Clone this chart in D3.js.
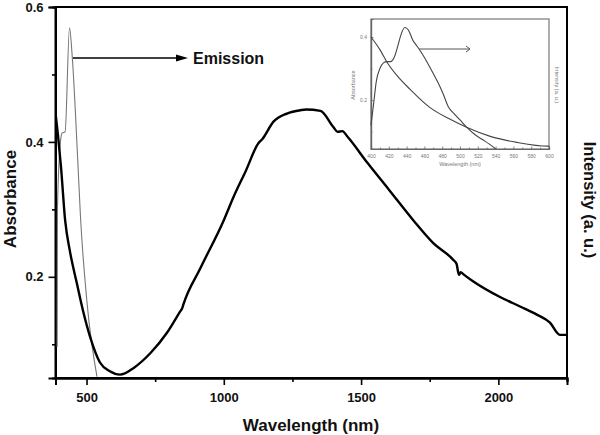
<!DOCTYPE html>
<html><head><meta charset="utf-8">
<script src="https://cdn.jsdelivr.net/npm/d3@7"></script>
<style>body{margin:0;background:#fff}svg{display:block}</style>
</head><body>
<svg id="c" width="600" height="435"></svg>
<script>
// Main chart data: absorbance (wavelength nm, absorbance)
const absWl  = [387,396,407,422,440,465,487,513,549,585,622,672,733,793,840,849,852,915,1000,1035,1080,1126,1140,1181,1230,1279,1300,1352,1399,1414,1432,1450,1523,1600,1690,1763,1836,1848,1853,1857,1863,1872,1909,2006,2079,2140,2188,2224,2250];
const absVal = [0.443,0.41,0.363,0.284,0.237,0.19,0.15,0.111,0.073,0.06,0.055,0.065,0.087,0.117,0.148,0.154,0.158,0.213,0.284,0.318,0.357,0.398,0.404,0.43,0.442,0.447,0.448,0.446,0.422,0.415,0.416,0.408,0.369,0.33,0.284,0.25,0.225,0.219,0.208,0.203,0.207,0.204,0.193,0.17,0.156,0.144,0.132,0.114,0.114];
// Main chart: emission (wavelength nm, intensity a.u.)
const emWl  = [393,394,405,411,422,438,448,468,478,502,538];
const emVal = [0.096,0.30,0.40,0.413,0.415,0.569,0.526,0.373,0.289,0.161,0.052];
const xTicks = [500,1000,1500,2000];
const xMinor = [750,1250,1750,2250];
const yTicks = [0.2,0.4,0.6];
const yMinor = [0.1,0.3,0.5];

// Inset data
const inAbsWl  = [400,410,418,430,444,466,489,508,534,564,599,600];
const inAbsVal = [0.40,0.36,0.32,0.275,0.234,0.177,0.139,0.113,0.085,0.066,0.054,0.054];
const inEmWl  = [400,403,406,410,414,418,422,426,430,434,438,442,447,452,459,466,475,481,487,494,500,508,517,528,540];
const inEmVal = [0.12,0.19,0.26,0.30,0.318,0.322,0.322,0.335,0.37,0.41,0.43,0.422,0.39,0.37,0.34,0.305,0.257,0.22,0.178,0.155,0.137,0.113,0.09,0.07,0.046];
const inXTicks = [400,420,440,460,480,500,520,540,560,580,600];
const inXMinor = [410,430,450,470,490,510,530,550,570,590];
const inYTicks = [0.2,0.4];
const inYMinor = [0.1,0.3];

const svg = d3.select("#c");
const FONT = "'Liberation Sans', Arial, sans-serif";

// ---- Main plot ----
const L=55.5, R=567, T=7, B=378;
const x = d3.scaleLinear().domain([387,2250]).range([L,R]);
const y = d3.scaleLinear().domain([0.05,0.6]).range([B,T]);
const yR = d3.scaleLinear().domain([0.05,0.6]).range([B,T]);

svg.append("rect").attr("x",L).attr("y",T).attr("width",R-L).attr("height",B-T)
  .attr("fill","none").attr("stroke","#000").attr("stroke-width",2);

function styleAxis(g){
  g.select(".domain").attr("stroke","#000").attr("stroke-width",2);
  g.selectAll(".tick line").attr("stroke","#000").attr("stroke-width",1.6);
  g.selectAll("text").attr("font-family",FONT).attr("font-weight","bold").attr("font-size",13).attr("fill","#111");
}
svg.append("g").attr("transform",`translate(${L},0)`)
  .call(d3.axisLeft(y).tickValues(yTicks).tickSize(7).tickPadding(5).tickFormat(d3.format(".1f"))).call(styleAxis);
svg.append("g").attr("transform",`translate(${L},0)`)
  .call(d3.axisLeft(y).tickValues(yMinor).tickSize(3.5).tickFormat("")).call(styleAxis);
svg.append("g").attr("transform",`translate(0,${B})`)
  .call(d3.axisBottom(x).tickValues(xTicks).tickSize(7).tickPadding(8).tickFormat(d3.format("d"))).call(styleAxis);
svg.append("g").attr("transform",`translate(0,${B})`)
  .call(d3.axisBottom(x).tickValues(xMinor).tickSize(4).tickFormat("")).call(styleAxis);

svg.append("clipPath").attr("id","mclip").append("rect")
  .attr("x",L).attr("y",T).attr("width",R-L).attr("height",B-T);

const line = d3.line().curve(d3.curveMonotoneX);
svg.append("path").attr("clip-path","url(#mclip)")
  .attr("d", line(emWl.map((w,i)=>[x(w),yR(emVal[i])])))
  .attr("fill","none").attr("stroke","#777").attr("stroke-width",1.1);
svg.append("path").attr("clip-path","url(#mclip)")
  .attr("d", line(absWl.map((w,i)=>[x(w),y(absVal[i])])))
  .attr("fill","none").attr("stroke","#000").attr("stroke-width",2.4).attr("stroke-linejoin","round");

// Arrow + Emission label
const ay = 58;
svg.append("line").attr("x1",73).attr("x2",180).attr("y1",ay).attr("y2",ay).attr("stroke","#000").attr("stroke-width",1.6);
svg.append("path").attr("d",`M176,${ay-3.5}L188,${ay}L176,${ay+3.5}Z`).attr("fill","#000");
svg.append("text").attr("x",193).attr("y",ay+5.5).text("Emission")
  .attr("font-family",FONT).attr("font-weight","bold").attr("font-size",16).attr("fill","#111");

// Axis titles
svg.append("text").attr("x",311).attr("y",431).attr("text-anchor","middle").text("Wavelength (nm)")
  .attr("font-family",FONT).attr("font-weight","bold").attr("font-size",17).attr("fill","#111");
svg.append("text").attr("transform","translate(16,199) rotate(-90)").attr("text-anchor","middle").text("Absorbance")
  .attr("font-family",FONT).attr("font-weight","bold").attr("font-size",17).attr("fill","#111");
svg.append("text").attr("transform","translate(584,200) rotate(90)").attr("text-anchor","middle").text("Intensity (a. u.)")
  .attr("font-family",FONT).attr("font-weight","bold").attr("font-size",16.5).attr("fill","#111");

// ---- Inset ----
const iL=371, iR=549, iT=19, iB=149;
const ix = d3.scaleLinear().domain([400,600]).range([iL,iR]);
const iy = d3.scaleLinear().domain([0.045,0.457]).range([iB,iT]);
const ins = svg.append("g");
ins.append("rect").attr("x",iL).attr("y",iT).attr("width",iR-iL).attr("height",iB-iT)
  .attr("fill","#fff").attr("stroke","#777").attr("stroke-width",1.2);
function styleIn(g){
  g.select(".domain").attr("stroke","#666").attr("stroke-width",1.2);
  g.selectAll(".tick line").attr("stroke","#666").attr("stroke-width",0.8);
  g.selectAll("text").attr("font-family",FONT).attr("font-size",5).attr("fill","#777");
}
ins.append("g").attr("transform",`translate(0,${iB})`)
  .call(d3.axisBottom(ix).tickValues(inXTicks).tickSize(-2.5).tickPadding(5).tickFormat(d3.format("d"))).call(styleIn);
ins.append("g").attr("transform",`translate(0,${iB})`)
  .call(d3.axisBottom(ix).tickValues(inXMinor).tickSize(-1.5).tickFormat("")).call(styleIn);
ins.append("g").attr("transform",`translate(${iL},0)`)
  .call(d3.axisLeft(iy).tickValues(inYTicks).tickSize(-2.5).tickPadding(4).tickFormat(d3.format(".1f"))).call(styleIn);
ins.append("g").attr("transform",`translate(${iL},0)`)
  .call(d3.axisLeft(iy).tickValues(inYMinor).tickSize(-1.5).tickFormat("")).call(styleIn);
ins.append("path").attr("d", line(inAbsWl.map((w,i)=>[ix(w),iy(inAbsVal[i])])))
  .attr("fill","none").attr("stroke","#444").attr("stroke-width",1.1);
ins.append("path").attr("d", line(inEmWl.map((w,i)=>[ix(w),iy(inEmVal[i])])))
  .attr("fill","none").attr("stroke","#444").attr("stroke-width",1.1);
ins.append("line").attr("x1",419).attr("x2",470).attr("y1",49).attr("y2",49).attr("stroke","#555").attr("stroke-width",1);
ins.append("path").attr("d","M466,46L470,49L466,52").attr("fill","none").attr("stroke","#555").attr("stroke-width",1);
ins.append("text").attr("x",460).attr("y",166).attr("text-anchor","middle").text("Wavelength (nm)")
  .attr("font-family",FONT).attr("font-size",5.5).attr("fill","#777");
ins.append("text").attr("transform","translate(355,85) rotate(-90)").attr("text-anchor","middle").text("Absorbance")
  .attr("font-family",FONT).attr("font-size",5.5).attr("fill","#777");
ins.append("text").attr("transform","translate(555,85) rotate(90)").attr("text-anchor","middle").text("Intensity (a. u.)")
  .attr("font-family",FONT).attr("font-size",5.5).attr("fill","#777");
</script>
</body></html>
